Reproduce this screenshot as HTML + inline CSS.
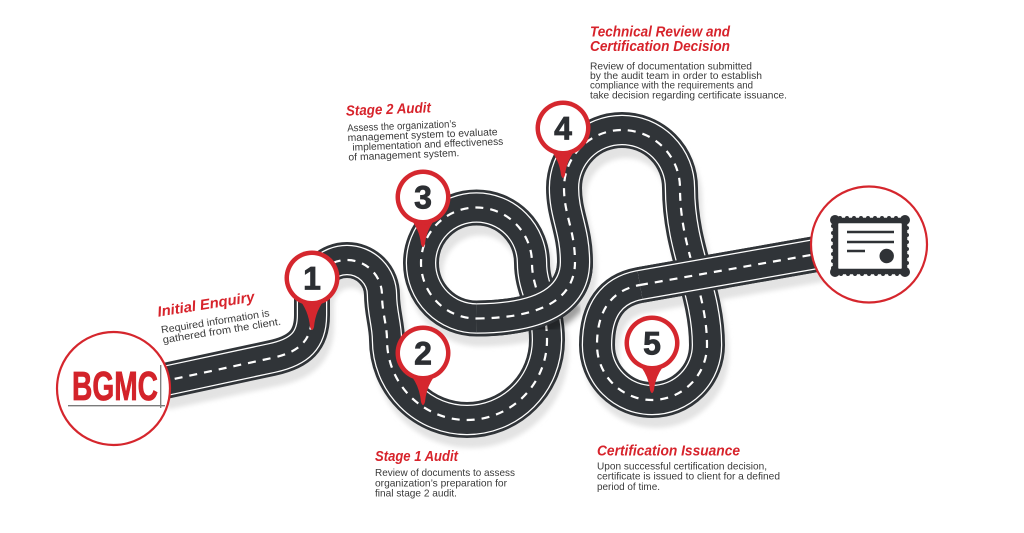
<!DOCTYPE html>
<html><head><meta charset="utf-8"><style>
html,body{margin:0;padding:0;background:#fff;}
svg{display:block;}
.t{font-family:"Liberation Sans",sans-serif;font-weight:bold;font-style:italic;fill:#d7232b;font-size:14.5px;}
.b{font-family:"Liberation Sans",sans-serif;fill:#3a3a3a;font-size:10.2px;}
.n{font-family:"Liberation Sans",sans-serif;font-weight:bold;fill:#2c2f33;font-size:32px;stroke:#2c2f33;stroke-width:0.8px;}
</style></head><body>
<svg width="1024" height="533" viewBox="0 0 1024 533" xmlns="http://www.w3.org/2000/svg">
<defs>
<path id="road" fill="none" d="M 160 382 L 272 358 C 300 352, 312 340, 312 315 L 312 295 A 35 35 0 0 1 382 295 C 382 312, 387 325, 387 340 A 80 80 0 0 0 547 340 C 547 305, 532 290, 532 263 A 55.5 55.5 0 1 0 476.5 318.5 C 530 318, 575 305, 575 262 C 575 230, 564 215, 564 188 A 58 58 0 0 1 680 188 C 680 250, 707 290, 707 345 A 55 55 0 0 1 597 345 C 597 310, 612 290, 640 285 L 822 253"/>
<path id="ov1" fill="none" d="M 476.5 318.5 C 530 318, 575 305, 575 262"/>
<path id="ov2" fill="none" d="M 640 285 L 822 253"/>
<filter id="bl" x="-20%" y="-20%" width="140%" height="140%"><feGaussianBlur stdDeviation="2.5"/></filter>
</defs>
<rect width="1024" height="533" fill="#fff"/>

<use href="#road" stroke="#e3e3e3" stroke-width="36" transform="translate(4,10)" filter="url(#bl)"/>

<g fill="none">
<use href="#road" stroke="#303438" stroke-width="36"/>
<use href="#road" stroke="#ffffff" stroke-width="30.5"/>
<use href="#road" stroke="#303438" stroke-width="28"/>
<use href="#road" stroke="#ffffff" stroke-width="2.2" stroke-dasharray="8 7"/>
</g>

<path d="M 512 317 C 535 315, 556 306, 568 291" stroke="#000" stroke-opacity="0.3" stroke-width="34" fill="none" transform="translate(1,7)" filter="url(#bl)"/>
<g fill="none">
<use href="#ov1" stroke="#303438" stroke-width="36"/>
<use href="#ov1" stroke="#ffffff" stroke-width="30.5"/>
<use href="#ov1" stroke="#303438" stroke-width="28"/>
<use href="#ov1" stroke="#ffffff" stroke-width="2.2" stroke-dasharray="8 7"/>
</g>

<path d="M 670 279.7 L 722 270.6" stroke="#000" stroke-opacity="0.3" stroke-width="34" fill="none" transform="translate(1,7)" filter="url(#bl)"/>
<g fill="none">
<use href="#ov2" stroke="#303438" stroke-width="36"/>
<use href="#ov2" stroke="#ffffff" stroke-width="30.5"/>
<use href="#ov2" stroke="#303438" stroke-width="28"/>
<use href="#ov2" stroke="#ffffff" stroke-width="2.2" stroke-dasharray="8 7"/>
</g>

<circle cx="113.5" cy="388.5" r="56.5" fill="#fff" stroke="#d5262d" stroke-width="2.2"/>
<text x="72" y="400" font-family="'Liberation Sans',sans-serif" font-weight="bold" font-size="41" fill="#d3232a" stroke="#d3232a" stroke-width="0.8" textLength="86" lengthAdjust="spacingAndGlyphs">BGMC</text>
<line x1="68" y1="405.7" x2="165" y2="405.7" stroke="#7a7a7a" stroke-width="1.3"/>
<line x1="160.7" y1="365" x2="160.7" y2="408" stroke="#7a7a7a" stroke-width="1.3"/>

<circle cx="869" cy="244.5" r="58" fill="#fff" stroke="#d5262d" stroke-width="2.2"/>
<g>
<rect x="835.5" y="220.5" width="69" height="51" fill="#fff" stroke="#2f3236" stroke-width="5.5"/>
<rect x="833" y="218" width="74" height="56" fill="none" stroke="#2f3236" stroke-width="4" stroke-dasharray="0 7" stroke-linecap="round"/>
<circle cx="835" cy="220" r="5" fill="#2f3236"/>
<circle cx="905" cy="220" r="5" fill="#2f3236"/>
<circle cx="835" cy="272" r="5" fill="#2f3236"/>
<circle cx="905" cy="272" r="5" fill="#2f3236"/>
<line x1="847" y1="232" x2="894" y2="232" stroke="#2f3236" stroke-width="2.4"/>
<line x1="847" y1="242" x2="894" y2="242" stroke="#2f3236" stroke-width="2.4"/>
<line x1="847" y1="251" x2="865" y2="251" stroke="#2f3236" stroke-width="2.4"/>
<circle cx="886.7" cy="256" r="7.2" fill="#2f3236"/>
</g>

<g transform="translate(312,278)">
<path d="M -14 20 Q -3.5 32 -2 49 Q 0 55 2 49 Q 3.5 32 14 20 Z" fill="#d5272e"/>
<circle r="27.5" fill="#d5272e"/><circle r="23" fill="#fff"/>
<text y="11.5" text-anchor="middle" class="n">1</text>
</g>
<g transform="translate(423,353)">
<path d="M -14 20 Q -3.5 32 -2 49 Q 0 55 2 49 Q 3.5 32 14 20 Z" fill="#d5272e"/>
<circle r="27.5" fill="#d5272e"/><circle r="23" fill="#fff"/>
<text y="11.5" text-anchor="middle" class="n">2</text>
</g>
<g transform="translate(423,197)">
<path d="M -14 20 Q -3.5 32 -2 47 Q 0 53 2 47 Q 3.5 32 14 20 Z" fill="#d5272e"/>
<circle r="27.5" fill="#d5272e"/><circle r="23" fill="#fff"/>
<text y="11.5" text-anchor="middle" class="n">3</text>
</g>
<g transform="translate(563,128)">
<path d="M -14 20 Q -3.5 32 -2 47 Q 0 53 2 47 Q 3.5 32 14 20 Z" fill="#d5272e"/>
<circle r="27.5" fill="#d5272e"/><circle r="23" fill="#fff"/>
<text y="11.5" text-anchor="middle" class="n">4</text>
</g>
<g transform="translate(652,343)">
<path d="M -14 20 Q -3.5 32 -2 47 Q 0 53 2 47 Q 3.5 32 14 20 Z" fill="#d5272e"/>
<circle r="27.5" fill="#d5272e"/><circle r="23" fill="#fff"/>
<text y="11.5" text-anchor="middle" class="n">5</text>
</g>

<text class="t" font-size="15" x="158.3" y="316.7" transform="rotate(-9 158.3 316.7)" textLength="98" lengthAdjust="spacingAndGlyphs">Initial Enquiry</text>
<text class="b" x="161.7" y="333.3" transform="rotate(-9 161.7 333.3)" textLength="109.5" lengthAdjust="spacingAndGlyphs">Required information is</text>
<text class="b" x="163.3" y="343.3" transform="rotate(-9 163.3 343.3)" textLength="119.5" lengthAdjust="spacingAndGlyphs">gathered from the client.</text>

<g transform="rotate(-2.3 347 130)">
<text class="t" x="346.7" y="115.7" textLength="85" lengthAdjust="spacingAndGlyphs">Stage 2 Audit</text>
<text class="b" x="347.3" y="131.5" textLength="109" lengthAdjust="spacingAndGlyphs">Assess the organization’s</text>
<text class="b" x="347.3" y="141.2" textLength="150" lengthAdjust="spacingAndGlyphs">management system to evaluate</text>
<text class="b" x="351.7" y="150.9" textLength="151" lengthAdjust="spacingAndGlyphs">implementation and effectiveness</text>
<text class="b" x="347.3" y="160.6" textLength="111" lengthAdjust="spacingAndGlyphs">of management system.</text>
</g>

<text class="t" x="590" y="36.7" textLength="140" lengthAdjust="spacingAndGlyphs">Technical Review and</text>
<text class="t" x="590" y="51" textLength="140" lengthAdjust="spacingAndGlyphs">Certification Decision</text>
<text class="b" x="590" y="69.3" textLength="162" lengthAdjust="spacingAndGlyphs">Review of documentation submitted</text>
<text class="b" x="590" y="79" textLength="172" lengthAdjust="spacingAndGlyphs">by the audit team in order to establish</text>
<text class="b" x="590" y="88.7" textLength="163" lengthAdjust="spacingAndGlyphs">compliance with the requirements and</text>
<text class="b" x="590" y="98.4" textLength="197" lengthAdjust="spacingAndGlyphs">take decision regarding certificate issuance.</text>

<text class="t" x="375" y="461" textLength="83" lengthAdjust="spacingAndGlyphs">Stage 1 Audit</text>
<text class="b" x="375" y="476" textLength="140" lengthAdjust="spacingAndGlyphs">Review of documents to assess</text>
<text class="b" x="375" y="486.3" textLength="132" lengthAdjust="spacingAndGlyphs">organization’s preparation for</text>
<text class="b" x="375" y="496.6" textLength="82" lengthAdjust="spacingAndGlyphs">final stage 2 audit.</text>

<text class="t" x="597" y="455.5" textLength="143" lengthAdjust="spacingAndGlyphs">Certification Issuance</text>
<text class="b" x="597" y="469.3" textLength="170" lengthAdjust="spacingAndGlyphs">Upon successful certification decision,</text>
<text class="b" x="597" y="479.7" textLength="183" lengthAdjust="spacingAndGlyphs">certificate is issued to client for a defined</text>
<text class="b" x="597" y="490" textLength="63" lengthAdjust="spacingAndGlyphs">period of time.</text>
</svg>
</body></html>
